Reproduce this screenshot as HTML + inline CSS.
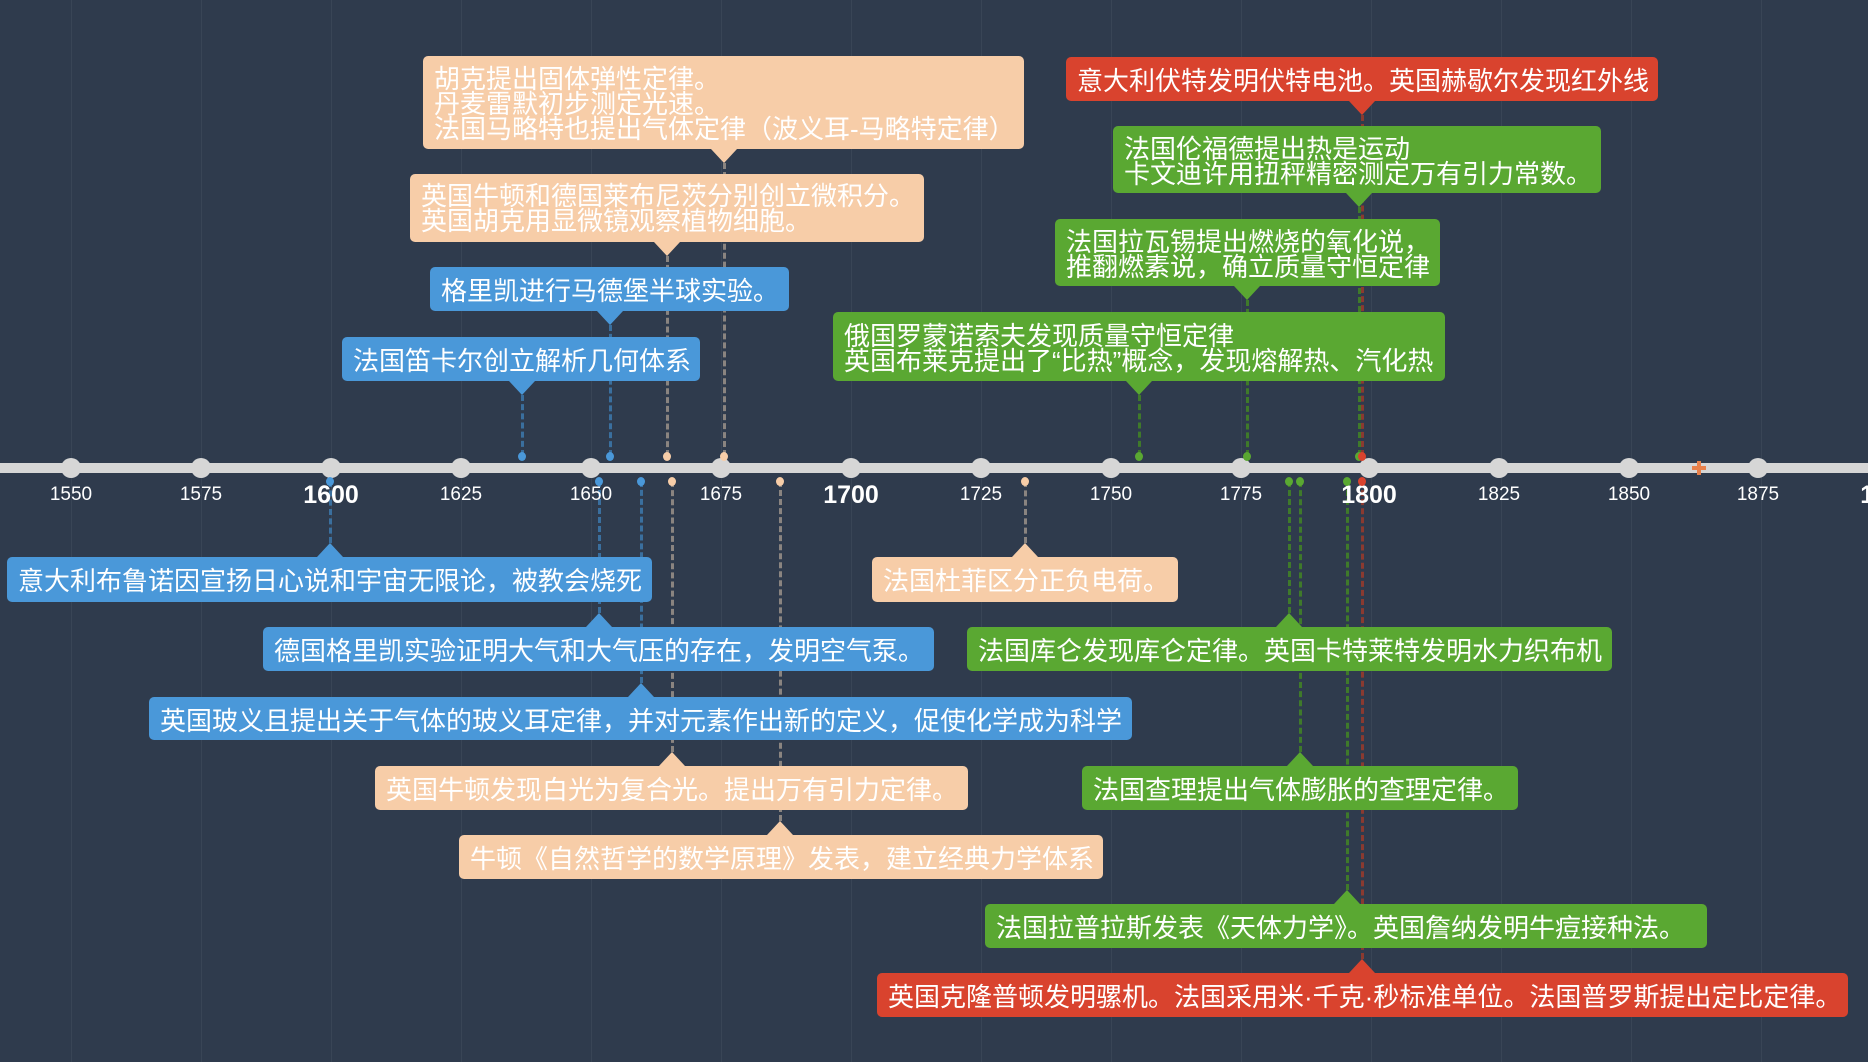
<!DOCTYPE html>
<html><head><meta charset="utf-8"><style>
*{margin:0;padding:0;box-sizing:border-box}
body{width:1868px;height:1062px;background:#2f3b4d;position:relative;overflow:hidden;font-family:"Liberation Sans","Noto Sans CJK SC",sans-serif}
.g{position:absolute;top:0;width:1px;height:1062px;background:rgba(255,255,255,0.05)}
.axis{position:absolute;left:0;top:463px;width:1868px;height:10px;background:#d6d6d6}
.t{position:absolute;top:458px;width:20px;height:20px;border-radius:50%;background:#d6d6d6;margin-left:-10px}
.y{position:absolute;top:484px;width:80px;margin-left:-40px;text-align:center;color:#fff;font-size:19px}
.y.b{font-size:25px;font-weight:bold;top:481px}
.box{position:absolute;color:#fff;font-size:26px;line-height:26px;padding:11px 11px 7px;border-radius:5px;white-space:nowrap}
.m{line-height:25px}
.bl{background:#4a98d9}.pe{background:#f7cda8}.gr{background:#5aa832}.rd{background:#d9432e}
.up,.dn{position:absolute;width:0;height:0;border-left:13px solid transparent;border-right:13px solid transparent;margin-left:-13px}
.dn.bl{background:none;border-top:14px solid #4a98d9}.dn.pe{background:none;border-top:14px solid #f7cda8}.dn.gr{background:none;border-top:14px solid #5aa832}.dn.rd{background:none;border-top:14px solid #d9432e}
.up.bl{background:none;border-bottom:14px solid #4a98d9}.up.pe{background:none;border-bottom:14px solid #f7cda8}.up.gr{background:none;border-bottom:14px solid #5aa832}.up.rd{background:none;border-bottom:14px solid #d9432e}
.c{position:absolute;width:0;border-left:3px dashed;margin-left:-1px}
.cb{border-color:#3a6f9e}.cp{border-color:#8a8480}.cg{border-color:#3f7a2a}.cr{border-color:#8a3a30}
.d{position:absolute;width:8px;height:9px;border-radius:50%;margin-left:-4px}
</style></head><body>
<div class="g" style="left:71px"></div><div class="g" style="left:201px"></div><div class="g" style="left:331px"></div><div class="g" style="left:461px"></div><div class="g" style="left:591px"></div><div class="g" style="left:721px"></div><div class="g" style="left:851px"></div><div class="g" style="left:981px"></div><div class="g" style="left:1111px"></div><div class="g" style="left:1241px"></div><div class="g" style="left:1371px"></div><div class="g" style="left:1501px"></div><div class="g" style="left:1631px"></div><div class="g" style="left:1761px"></div>

<div class="c cp" style="left:724px;top:163px;height:293px"></div>
<div class="c cp" style="left:667px;top:256px;height:200px"></div>
<div class="c cb" style="left:610px;top:325px;height:131px"></div>
<div class="c cb" style="left:522px;top:395px;height:61px"></div>
<div class="c cg" style="left:1139px;top:395px;height:61px"></div>
<div class="c cg" style="left:1247px;top:300px;height:156px"></div>
<div class="c cg" style="left:1359px;top:207px;height:249px"></div>
<div class="c cr" style="left:1362px;top:115px;height:341px"></div>
<div class="c cb" style="left:330px;top:481px;height:62px"></div>
<div class="c cp" style="left:1025px;top:481px;height:62px"></div>
<div class="c cb" style="left:599px;top:481px;height:132px"></div>
<div class="c cg" style="left:1289px;top:481px;height:132px"></div>
<div class="c cb" style="left:641px;top:481px;height:202px"></div>
<div class="c cp" style="left:672px;top:481px;height:271px"></div>
<div class="c cg" style="left:1300px;top:481px;height:271px"></div>
<div class="c cp" style="left:780px;top:481px;height:340px"></div>
<div class="c cg" style="left:1347px;top:481px;height:409px"></div>
<div class="c cr" style="left:1362px;top:481px;height:478px"></div>

<div class="axis"></div>
<div class="t" style="left:71px"></div><div class="t" style="left:201px"></div><div class="t" style="left:331px"></div><div class="t" style="left:461px"></div><div class="t" style="left:591px"></div><div class="t" style="left:721px"></div><div class="t" style="left:851px"></div><div class="t" style="left:981px"></div><div class="t" style="left:1111px"></div><div class="t" style="left:1241px"></div><div class="t" style="left:1369px"></div><div class="t" style="left:1499px"></div><div class="t" style="left:1629px"></div><div class="t" style="left:1758px"></div>
<div style="position:absolute;left:1692px;top:466px;width:14px;height:4px;background:#e8804a"></div>
<div style="position:absolute;left:1697px;top:461px;width:4px;height:14px;background:#e8804a"></div>

<div class="y" style="left:71px">1550</div><div class="y" style="left:201px">1575</div><div class="y b" style="left:331px">1600</div><div class="y" style="left:461px">1625</div><div class="y" style="left:591px">1650</div><div class="y" style="left:721px">1675</div><div class="y b" style="left:851px">1700</div><div class="y" style="left:981px">1725</div><div class="y" style="left:1111px">1750</div><div class="y" style="left:1241px">1775</div><div class="y b" style="left:1369px">1800</div><div class="y" style="left:1499px">1825</div><div class="y" style="left:1629px">1850</div><div class="y" style="left:1758px">1875</div><div class="y b" style="left:1888px">1900</div>

<div class="d" style="left:724px;top:452px;background:#f7cda8"></div>
<div class="d" style="left:667px;top:452px;background:#f7cda8"></div>
<div class="d" style="left:610px;top:452px;background:#4a98d9"></div>
<div class="d" style="left:522px;top:452px;background:#4a98d9"></div>
<div class="d" style="left:1139px;top:452px;background:#5aa832"></div>
<div class="d" style="left:1247px;top:452px;background:#5aa832"></div>
<div class="d" style="left:1359px;top:452px;background:#5aa832"></div>
<div class="d" style="left:1362px;top:452px;background:#d9432e"></div>
<div class="d" style="left:330px;top:477px;background:#4a98d9"></div>
<div class="d" style="left:599px;top:477px;background:#4a98d9"></div>
<div class="d" style="left:641px;top:477px;background:#4a98d9"></div>
<div class="d" style="left:672px;top:477px;background:#f7cda8"></div>
<div class="d" style="left:780px;top:477px;background:#f7cda8"></div>
<div class="d" style="left:1025px;top:477px;background:#f7cda8"></div>
<div class="d" style="left:1289px;top:477px;background:#5aa832"></div>
<div class="d" style="left:1300px;top:477px;background:#5aa832"></div>
<div class="d" style="left:1347px;top:477px;background:#5aa832"></div>
<div class="d" style="left:1362px;top:477px;background:#d9432e"></div>

<div class="box pe m" style="left:423px;top:56px;width:601px;height:93px;padding-top:11px">胡克提出固体弹性定律。<br>丹麦雷默初步测定光速。<br>法国马略特也提出气体定律（波义耳-马略特定律）</div>
<div class="dn pe" style="left:724px;top:149px"></div>
<div class="box pe m" style="left:410px;top:174px;width:514px;height:68px;padding-top:10px">英国牛顿和德国莱布尼茨分别创立微积分。<br>英国胡克用显微镜观察植物细胞。</div>
<div class="dn pe" style="left:667px;top:242px"></div>
<div class="box bl" style="left:430px;top:267px;width:359px;height:44px">格里凯进行马德堡半球实验。</div>
<div class="dn bl" style="left:610px;top:311px"></div>
<div class="box bl" style="left:342px;top:337px;width:358px;height:44px">法国笛卡尔创立解析几何体系</div>
<div class="dn bl" style="left:522px;top:381px"></div>

<div class="box rd" style="left:1066px;top:57px;width:592px;height:44px">意大利伏特发明伏特电池。英国赫歇尔发现红外线</div>
<div class="dn rd" style="left:1362px;top:101px"></div>
<div class="box gr m" style="left:1113px;top:126px;width:488px;height:67px;padding-top:11px">法国伦福德提出热是运动<br>卡文迪许用扭秤精密测定万有引力常数。</div>
<div class="dn gr" style="left:1359px;top:193px"></div>
<div class="box gr m" style="left:1055px;top:219px;width:385px;height:67px;padding-top:11px">法国拉瓦锡提出燃烧的氧化说，<br>推翻燃素说，确立质量守恒定律</div>
<div class="dn gr" style="left:1247px;top:286px"></div>
<div class="box gr m" style="left:833px;top:312px;width:612px;height:69px;padding-top:12px">俄国罗蒙诺索夫发现质量守恒定律<br>英国布莱克提出了“比热”概念，发现熔解热、汽化热</div>
<div class="dn gr" style="left:1139px;top:381px"></div>

<div class="up bl" style="left:330px;top:543px"></div>
<div class="box bl" style="left:7px;top:557px;width:645px;height:45px">意大利布鲁诺因宣扬日心说和宇宙无限论，被教会烧死</div>
<div class="up pe" style="left:1025px;top:543px"></div>
<div class="box pe" style="left:872px;top:557px;width:306px;height:45px">法国杜菲区分正负电荷。</div>
<div class="up bl" style="left:599px;top:613px"></div>
<div class="box bl" style="left:263px;top:627px;width:671px;height:44px">德国格里凯实验证明大气和大气压的存在，发明空气泵。</div>
<div class="up gr" style="left:1289px;top:613px"></div>
<div class="box gr" style="left:967px;top:627px;width:645px;height:44px">法国库仑发现库仑定律。英国卡特莱特发明水力织布机</div>
<div class="up bl" style="left:641px;top:683px"></div>
<div class="box bl" style="left:149px;top:697px;width:983px;height:43px">英国玻义且提出关于气体的玻义耳定律，并对元素作出新的定义，促使化学成为科学</div>
<div class="up pe" style="left:672px;top:752px"></div>
<div class="box pe" style="left:375px;top:766px;width:593px;height:44px">英国牛顿发现白光为复合光。提出万有引力定律。</div>
<div class="up gr" style="left:1300px;top:752px"></div>
<div class="box gr" style="left:1082px;top:766px;width:436px;height:44px">法国查理提出气体膨胀的查理定律。</div>
<div class="up pe" style="left:780px;top:821px"></div>
<div class="box pe" style="left:459px;top:835px;width:644px;height:44px">牛顿《自然哲学的数学原理》发表，建立经典力学体系</div>
<div class="up gr" style="left:1347px;top:890px"></div>
<div class="box gr" style="left:985px;top:904px;width:722px;height:44px">法国拉普拉斯发表《天体力学》。英国詹纳发明牛痘接种法。</div>
<div class="up rd" style="left:1362px;top:959px"></div>
<div class="box rd" style="left:877px;top:973px;width:971px;height:44px">英国克隆普顿发明骡机。法国采用米·千克·秒标准单位。法国普罗斯提出定比定律。</div>
</body></html>
